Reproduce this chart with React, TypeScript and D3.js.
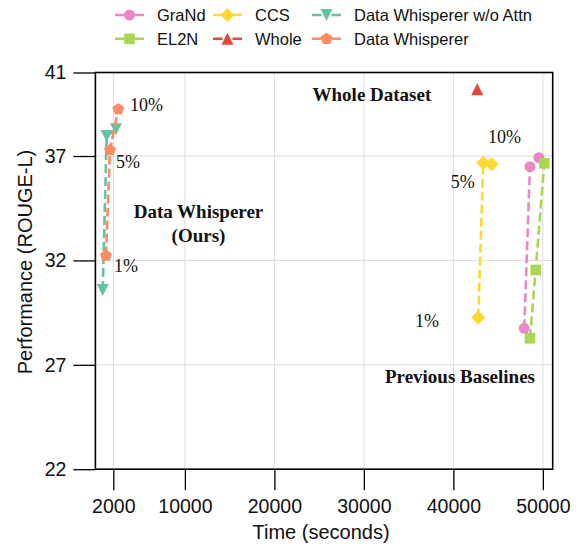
import * as React from 'react';
import { useEffect, useRef } from 'react';
import * as d3 from 'd3';

// ---- data ----
const PERCENTS = ['1%', '5%', '10%'];

const GRAND_TIME = [47920, 48560, 49560];
const GRAND_PERF = [28.75, 36.49, 36.92];

const EL2N_TIME = [48560, 49200, 50160];
const EL2N_PERF = [28.27, 31.54, 36.65];

const CCS_TIME = [42780, 43340, 44280];
const CCS_PERF = [29.26, 36.68, 36.6];

const WHOLE_TIME = [42670];
const WHOLE_PERF = [40.2];

const DW_NOATTN_TIME = [815, 1260, 2300];
const DW_NOATTN_PERF = [30.58, 37.96, 38.28];

const DW_TIME = [1180, 1630, 2560];
const DW_PERF = [32.23, 37.29, 39.24];

const X_TICKS = [2000, 10000, 20000, 30000, 40000, 50000];
const Y_TICKS = [22, 27, 32, 37, 41];
const X_DOMAIN = [0, 51100];
const Y_DOMAIN = [22, 41];

// percent labels, in data coords (x, y)
const DW_LABEL_X = [2080, 2300, 3870];
const DW_LABEL_Y = [31.45, 36.43, 39.17];
const BASE_LABEL_X = [35710, 39700, 43870];
const BASE_LABEL_Y = [28.8, 35.48, 37.61];

const WIDTH = 581;
const HEIGHT = 545;
const MARGINS = { top: 72.5, left: 95.4, bottom: 545 - 469.2, right: 581 - 552.7 };

const SANS = '"Liberation Sans", Arial, sans-serif';
const SERIF = '"Liberation Serif", "Times New Roman", serif';

// matplotlib-like marker shapes; size is the square of the marker width
const shape = (kind: string) => ({
    draw(ctx: any, size: number) {
        const r = Math.sqrt(size) / 2;
        if (kind === 'circle') {
            ctx.moveTo(r, 0);
            ctx.arc(0, 0, r, 0, 2 * Math.PI);
            return;
        }
        let pts: number[][] = [];
        if (kind === 'square') pts = [[-r, -r], [r, -r], [r, r], [-r, r]];
        if (kind === 'diamond') pts = [[0, -r], [r, 0], [0, r], [-r, 0]];
        if (kind === 'up') pts = [[0, -r], [r, r], [-r, r]];
        if (kind === 'down') pts = [[0, r], [r, -r], [-r, -r]];
        if (kind === 'pentagon') {
            pts = d3.range(5).map(k => {
                const a = -Math.PI / 2 + k * 2 * Math.PI / 5;
                return [r * Math.cos(a), r * Math.sin(a)];
            });
        }
        pts.forEach((p, i) => (i === 0 ? ctx.moveTo(p[0], p[1]) : ctx.lineTo(p[0], p[1])));
        ctx.closePath();
    }
});

interface Series {
    name: string;
    color: string;
    marker: string;
    markerSize: number;
    time: number[];
    perf: number[];
}

const SERIES: Series[] = [
    { name: 'GraNd', color: '#e78ac3', marker: 'circle', markerSize: 11, time: GRAND_TIME, perf: GRAND_PERF },
    { name: 'EL2N', color: '#a6d854', marker: 'square', markerSize: 10.6, time: EL2N_TIME, perf: EL2N_PERF },
    { name: 'CCS', color: '#ffd92f', marker: 'diamond', markerSize: 14, time: CCS_TIME, perf: CCS_PERF },
    { name: 'Whole', color: '#e8463a', marker: 'up', markerSize: 12, time: WHOLE_TIME, perf: WHOLE_PERF },
    { name: 'Data Whisperer w/o Attn', color: '#66c2a5', marker: 'down', markerSize: 12, time: DW_NOATTN_TIME, perf: DW_NOATTN_PERF },
    { name: 'Data Whisperer', color: '#fc8d62', marker: 'pentagon', markerSize: 12.6, time: DW_TIME, perf: DW_PERF },
];

export default function App() {
    const ref = useRef<SVGSVGElement>(null);

    useEffect(() => {
        const svg = d3.select(ref.current);
        svg.selectAll('*').remove();

        const x = d3.scaleLinear().domain(X_DOMAIN).range([MARGINS.left, WIDTH - MARGINS.right]);
        const y = d3.scaleLinear().domain(Y_DOMAIN).range([HEIGHT - MARGINS.bottom, MARGINS.top]);

        const x0 = x.range()[0], x1 = x.range()[1];
        const y0 = y.range()[1], y1 = y.range()[0];

        // grid
        const grid = svg.append('g').attr('class', 'grid');
        grid.selectAll('line.gx').data(X_TICKS).enter().append('line')
            .attr('x1', d => x(d)).attr('x2', d => x(d))
            .attr('y1', y0).attr('y2', y1)
            .attr('stroke', '#dcdcdc').attr('stroke-width', 1);
        grid.selectAll('line.gy').data(Y_TICKS.filter(d => d !== 22 && d !== 41)).enter().append('line')
            .attr('x1', x0).attr('x2', x1)
            .attr('y1', d => y(d)).attr('y2', d => y(d))
            .attr('stroke', '#dcdcdc').attr('stroke-width', 1);

        // axes
        const minorX = d3.range(0, X_DOMAIN[1], 2000).filter(d => X_TICKS.indexOf(d) < 0);
        const minorY = d3.range(22, 42, 1).filter(d => Y_TICKS.indexOf(d) < 0);

        const xAxisGroup = svg.append('g').attr('transform', 'translate(0,' + y1 + ')');
        xAxisGroup.call(d3.axisBottom(x).tickValues(minorX).tickSize(4.5).tickFormat(() => ''));
        xAxisGroup.call(d3.axisBottom(x).tickValues(X_TICKS).tickSize(21).tickPadding(9).tickFormat(d3.format('d')));
        xAxisGroup.selectAll('.domain').remove();

        const yAxisGroup = svg.append('g').attr('transform', 'translate(' + x0 + ',0)');
        yAxisGroup.call(d3.axisLeft(y).tickValues(minorY).tickSize(4.5).tickFormat(() => ''));
        yAxisGroup.call(d3.axisLeft(y).tickValues(Y_TICKS).tickSize(22).tickPadding(7).tickFormat(d3.format('d')));
        yAxisGroup.selectAll('.domain').remove();

        svg.selectAll('.tick line').attr('stroke', '#000').attr('stroke-width', 1.3);
        svg.selectAll('.tick text')
            .attr('fill', '#111')
            .style('font-family', SANS)
            .style('font-size', '19.5px');

        // frame
        svg.append('rect')
            .attr('x', x0).attr('y', y0)
            .attr('width', x1 - x0).attr('height', y1 - y0)
            .attr('fill', 'none').attr('stroke', '#000').attr('stroke-width', 1.6);

        // axis labels
        svg.append('text')
            .attr('x', (x0 + x1) / 2 - 3).attr('y', 539)
            .attr('text-anchor', 'middle')
            .style('font-family', SANS).style('font-size', '20px')
            .attr('fill', '#111')
            .text('Time (seconds)');
        svg.append('text')
            .attr('transform', 'translate(32,262) rotate(-90)')
            .attr('text-anchor', 'middle')
            .style('font-family', SANS).style('font-size', '20px')
            .attr('fill', '#111')
            .text('Performance (ROUGE-L)');

        // series
        const line = d3.line<number>()
            .x((d, i, arr) => 0)
            .y(() => 0);

        SERIES.forEach(s => {
            const pts = s.time.map((t, i) => [x(t), y(s.perf[i])] as [number, number]);
            const g = svg.append('g').attr('class', 'series');
            if (pts.length > 1) {
                g.append('path')
                    .attr('d', d3.line()(pts))
                    .attr('fill', 'none')
                    .attr('stroke', s.color)
                    .attr('stroke-width', 2.6)
                    .attr('stroke-dasharray', '9,4');
            }
            const sym = d3.symbol().type(shape(s.marker) as any).size(s.markerSize * s.markerSize);
            g.selectAll('path.m').data(pts).enter().append('path')
                .attr('class', 'm')
                .attr('transform', d => 'translate(' + d + ')')
                .attr('d', sym as any)
                .attr('fill', s.color);
        });

        // annotations
        const pctText = (xs: number[], ys: number[]) => {
            svg.append('g').selectAll('text').data(PERCENTS).enter().append('text')
                .attr('x', (d, i) => x(xs[i]))
                .attr('y', (d, i) => y(ys[i]))
                .style('font-family', SERIF).style('font-size', '18px')
                .attr('fill', '#111')
                .text(d => d);
        };
        pctText(DW_LABEL_X, DW_LABEL_Y);
        pctText(BASE_LABEL_X, BASE_LABEL_Y);

        const boldText = (t: string, tx: number, ty: number) => {
            svg.append('text')
                .attr('x', x(tx)).attr('y', y(ty))
                .attr('text-anchor', 'middle')
                .style('font-family', SERIF).style('font-size', '19px').style('font-weight', 'bold')
                .attr('fill', '#111')
                .text(t);
        };
        boldText('Whole Dataset', 30900, 39.64);
        boldText('Data Whisperer', 11520, 34.03);
        boldText('(Ours)', 11520, 32.88);
        boldText('Previous Baselines', 40740, 26.13);

        // legend, 3 columns filled column-first
        const colX = [115, 213, 312];
        const rowY = [15, 38.8];
        const legend = svg.append('g').attr('class', 'legend');
        SERIES.forEach((s, i) => {
            const cx = colX[Math.floor(i / 2)];
            const cy = rowY[i % 2];
            const item = legend.append('g').attr('transform', 'translate(' + [cx, cy] + ')');
            item.append('line')
                .attr('x1', 0).attr('x2', 29).attr('y1', 0).attr('y2', 0)
                .attr('stroke', s.color).attr('stroke-width', 2.6)
                .attr('stroke-dasharray', '9.5,10');
            item.append('path')
                .attr('transform', 'translate(14.5,0)')
                .attr('d', d3.symbol().type(shape(s.marker) as any).size(s.markerSize * s.markerSize) as any)
                .attr('fill', s.color);
            item.append('text')
                .attr('x', 42).attr('y', 6)
                .style('font-family', SANS).style('font-size', '16.5px')
                .attr('fill', '#111')
                .text(s.name);
        });
    }, []);

    return (
        <div style={{ position: 'absolute', left: 0, top: 0, background: '#fff' }}>
            <svg ref={ref} width={WIDTH} height={HEIGHT} style={{ display: 'block' }} />
        </div>
    );
}
